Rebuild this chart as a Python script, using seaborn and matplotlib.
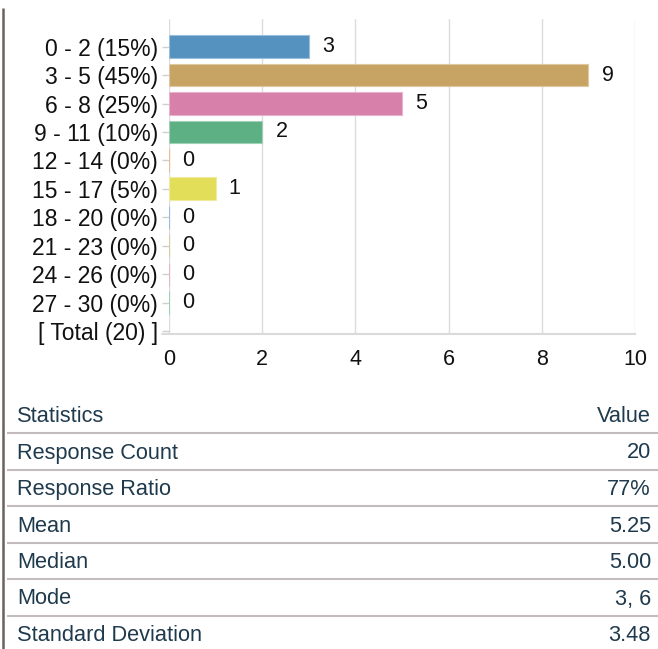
import matplotlib
matplotlib.use("Agg")
import matplotlib.pyplot as plt
import matplotlib.colors as mcolors
import seaborn as sns
import pandas as pd

# ---- data ----
categories = ["0 - 2 (15%)", "3 - 5 (45%)", "6 - 8 (25%)", "9 - 11 (10%)",
              "12 - 14 (0%)", "15 - 17 (5%)", "18 - 20 (0%)", "21 - 23 (0%)",
              "24 - 26 (0%)", "27 - 30 (0%)"]
counts = [3, 9, 5, 2, 0, 1, 0, 0, 0, 0]
total_label = "[ Total (20) ]"
bar_colors = ["#5592c0", "#c8a464", "#d680aa", "#5db083", "#e08a4a",
              "#e3de5a", "#5592c0", "#c8a464", "#d680aa", "#5db083"]
xticks = [0, 2, 4, 6, 8, 10]
header = ["Statistics", "Value"]
stat_names = ["Response Count", "Response Ratio", "Mean", "Median", "Mode",
              "Standard Deviation"]
stat_values = ["20", "77%", "5.25", "5.00", "3, 6", "3.48"]

# ---- style ----
sns.set_theme(style="white")
plt.rcParams['font.family'] = ['Liberation Sans', 'DejaVu Sans']

W, H = 658, 649
fig = plt.figure(figsize=(W / 100, H / 100), dpi=100)
fig.patch.set_facecolor("white")

# table / frame layer (pixel coordinates)
tax = fig.add_axes([0, 0, 1, 1], zorder=0)
tax.set_xlim(0, W)
tax.set_ylim(H, 0)
tax.axis("off")

# bar chart
ax = fig.add_axes([169 / W, 1 - 334 / H, (635 - 169) / W, (334 - 19) / H], zorder=1)
ax.patch.set_alpha(0)
df = pd.DataFrame({"cat": categories, "count": counts})
sns.barplot(data=df, y="cat", x="count", hue="cat", palette=bar_colors,
            orient="h", width=0.8, legend=False, saturation=1, ax=ax)
for p in ax.patches:
    fc = mcolors.to_rgb(p.get_facecolor())
    ec = tuple(0.6 * c + 0.4 for c in fc)
    p.set_edgecolor(ec)
    p.set_linewidth(0.8)

for i, v in enumerate(counts):
    ax.annotate(str(v), (v, i), xytext=(9.5, 0), textcoords="offset points",
                ha="left", va="center", fontsize=15.5, color="#111111")

ax.set_yticks(range(len(categories) + 1))
ax.set_yticklabels(categories + [total_label])
ax.set_ylim(10.1, -0.97)
ax.set_xlim(0, 10)
ax.set_xticks(xticks)
ax.set_xticklabels([str(t) for t in xticks])
ax.set_xlabel("")
ax.set_ylabel("")
ax.xaxis.grid(True, color="#dcdcdc", lw=1)
ax.set_axisbelow(True)
for s in ["top", "right", "left"]:
    ax.spines[s].set_visible(False)
ax.spines["bottom"].set_color("#dadada")
ax.spines["bottom"].set_linewidth(1.5)
ax.axhline(10.1, xmin=-7 / 466, xmax=0, color="#dadada", lw=1.5, clip_on=False)
ax.tick_params(axis="x", length=0, pad=11, labelsize=15.5, labelcolor="#111111")
ax.tick_params(axis="y", length=5, width=1, color="#d0d0d0", pad=3,
               labelsize=16.5, labelcolor="#111111", left=True)

# left frame line
tax.plot([3, 3], [8, H], color="#6a625f", lw=1.8, solid_capstyle="butt")

# statistics table
txt_color = "#1f3a4d"
row_y = [414 + 36.5 * i for i in range(len(stat_names) + 1)]
fs = 15.7
off = 2.5
tax.text(17, row_y[0] + off, header[0], ha="left", va="center", fontsize=fs, color=txt_color)
tax.text(651, row_y[0] + off, header[1], ha="right", va="center", fontsize=fs, color=txt_color)
for i, (n, v) in enumerate(zip(stat_names, stat_values)):
    y = row_y[i + 1] + off
    tax.text(17, y, n, ha="left", va="center", fontsize=fs, color=txt_color)
    tax.text(651, y, v, ha="right", va="center", fontsize=fs, color=txt_color)
for i in range(len(stat_names)):
    yl = row_y[i] + 19
    tax.plot([7, W], [yl, yl], color="#c4bcbc", lw=1.5, solid_capstyle="butt")

fig.savefig("out.png", dpi=100, facecolor="white")
